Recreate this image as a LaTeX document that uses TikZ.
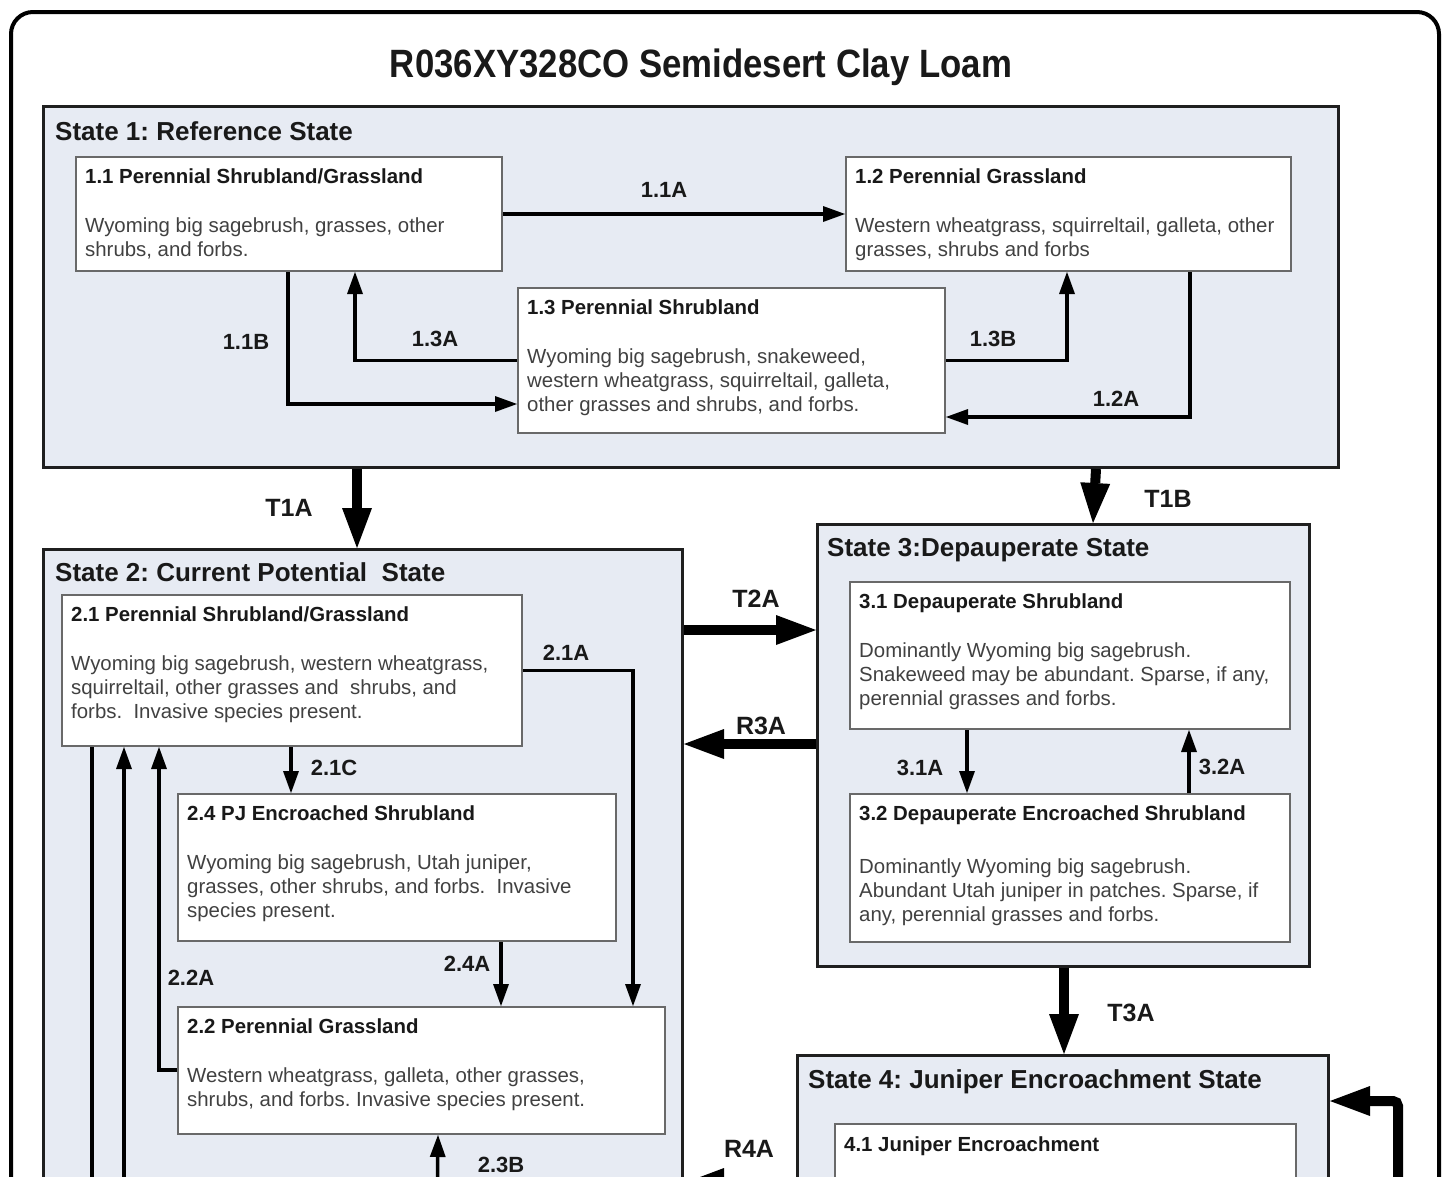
\documentclass[tikz,border=0pt]{standalone}
\usepackage{fontspec}
\setmainfont{Liberation Sans}
\usepackage{graphicx}
\usetikzlibrary{arrows.meta}
\definecolor{statefill}{RGB}{231,235,243}
\definecolor{subedge}{RGB}{105,105,105}
\definecolor{bodytext}{RGB}{65,65,65}
\definecolor{headtext}{RGB}{25,25,25}
\newcommand\mysub[8]{%
  \node[sub, minimum width=#4pt, minimum height=#5pt] (#1) at (#2,#3) {};
  \node[head] (#1h) at ([shift={(10pt,-27pt)}]#1.north west) {#6};
  \node[body] (#1b) at ([shift={(10pt,-#8pt)}]#1.north west) {\rule{0pt}{16pt}#7};
}
\frenchspacing
\begin{document}
\frenchspacing
\begin{tikzpicture}[x=1pt,y=-1pt,
  state/.style={draw=black!88, line width=3pt, fill=statefill, inner sep=0pt, anchor=north west},
  sub/.style={draw=subedge, line width=2pt, fill=white, inner sep=0pt, anchor=north west},
  head/.style={font=\fontsize{20.4}{24}\selectfont\bfseries\frenchspacing, text=headtext, inner sep=0pt, anchor=base west},
  body/.style={font=\fontsize{20.4}{24}\selectfont\frenchspacing, text=bodytext, inner sep=0pt, align=left, anchor=north west},
  stitle/.style={font=\fontsize{26}{30}\selectfont\bfseries\frenchspacing, text=headtext, inner sep=0pt, anchor=base west},
  lab/.style={font=\fontsize{22}{26}\selectfont\bfseries, text=headtext, inner sep=0pt, anchor=base},
  tlab/.style={font=\fontsize{25}{30}\selectfont\bfseries, text=headtext, inner sep=0pt, anchor=base},
  arr/.style={line width=3.5pt, -{Triangle[length=22pt,width=16pt,line width=0pt]}},
  plainline/.style={line width=3.5pt},
  bigarr/.style={line width=10pt, -{Triangle[length=40pt,width=30pt,line width=0pt]}}
]
\useasboundingbox (0,0) rectangle (1446,1176);
\clip (0,0) rectangle (1446,1176);
\fill[white] (0,0) rectangle (1446,1176);
\draw[line width=4pt, rounded corners=22pt] (11,12) rectangle (1439,1320);

\node[font=\fontsize{39.5}{44}\selectfont\bfseries, text=headtext, inner sep=0pt, anchor=base] (title) at (701,77)
  {\scalebox{0.88}[1]{R036XY328CO Semidesert Clay Loam}};

% states
\node[state, minimum width=1295pt, minimum height=361pt] (s1) at (42,105) {};
\node[state, minimum width=639pt, minimum height=720pt] (s2) at (42,548) {};
\node[state, minimum width=492pt, minimum height=442pt] (s3) at (816,523) {};
\node[state, minimum width=531pt, minimum height=300pt] (s4) at (796,1054) {};
\node[stitle] (s1t) at ([shift={(13pt,-35pt)}]s1.north west) {State 1: Reference State};
\node[stitle] (s2t) at ([shift={(13pt,-33pt)}]s2.north west) {State 2: Current Potential\ \ State};
\node[stitle] (s3t) at ([shift={(11pt,-33pt)}]s3.north west) {State 3:Depauperate State};
\node[stitle] (s4t) at ([shift={(12pt,-34pt)}]s4.north west) {State 4: Juniper Encroachment State};

% community boxes
\mysub{b11}{75}{156}{426}{114}{1.1 Perennial Shrubland/Grassland}{Wyoming big sagebrush, grasses, other\\shrubs, and forbs.}{60}
\mysub{b12}{845}{156}{445}{114}{1.2 Perennial Grassland}{Western wheatgrass, squirreltail, galleta, other\\grasses, shrubs and forbs}{60}
\mysub{b13}{517}{287}{427}{145}{1.3 Perennial Shrubland}{Wyoming big sagebrush, snakeweed,\\western wheatgrass, squirreltail, galleta,\\other grasses and shrubs, and forbs.}{60}
\mysub{b21}{61}{594}{460}{151}{2.1 Perennial Shrubland/Grassland}{Wyoming big sagebrush, western wheatgrass,\\squirreltail, other grasses and\ \ shrubs, and\\forbs.\ \ Invasive species present.}{60}
\mysub{b24}{177}{793}{438}{147}{2.4 PJ Encroached Shrubland}{Wyoming big sagebrush, Utah juniper,\\grasses, other shrubs, and forbs.\ \ Invasive\\species present.}{60}
\mysub{b22}{177}{1006}{487}{127}{2.2 Perennial Grassland}{Western wheatgrass, galleta, other grasses,\\shrubs, and forbs. Invasive species present.}{60}
\mysub{b31}{849}{581}{440}{147}{3.1 Depauperate Shrubland}{Dominantly Wyoming big sagebrush.\\Snakeweed may be abundant. Sparse, if any,\\perennial grasses and forbs.}{60}
\mysub{b32}{849}{793}{440}{148}{3.2 Depauperate Encroached Shrubland}{Dominantly Wyoming big sagebrush.\\Abundant Utah juniper in patches. Sparse, if\\any, perennial grasses and forbs.}{64}
\node[sub, minimum width=461pt, minimum height=300pt] (b41) at (834,1123) {};
\node[head] (b41h) at ([shift={(10pt,-28pt)}]b41.north west) {4.1 Juniper Encroachment};

% free ends below the visible area
\coordinate (c92) at (92,1220);
\coordinate (c124) at (124,1220);
\coordinate (c437) at (437,1220);
\coordinate (cR) at (1398,1220);

% state 1 pathways
\draw[arr] (b11.east) -- (b12.west);
\draw[arr] ([xshift=213pt]b11.south west) |- ([yshift=30pt]b13.south west);
\draw[arr] (b13.west) -| ([xshift=280pt]b11.south west);
\draw[arr] (b13.east) -| ([xshift=222pt]b12.south west);
\draw[arr] ([xshift=345pt]b12.south west) |- ([yshift=17pt]b13.south east);

% state 2 pathways
\draw[arr] (b21.east) -| ([xshift=-33pt]b22.north east);
\draw[arr] ([xshift=230pt]b21.south west) -- ([xshift=114pt]b24.north west);
\draw[arr] ([xshift=324pt]b24.south west) -- ([xshift=324pt]b22.north west);
\draw[arr] ([yshift=-64pt]b22.north west) -| ([xshift=98pt]b21.south west);
\draw[arr] (c124) -- ([xshift=63pt]b21.south west);
\draw[plainline] ([xshift=31pt]b21.south west) -- (c92);
\draw[arr] (c437) -- ([xshift=261pt]b22.south west);

% state 3 pathways
\draw[arr] ([xshift=118pt]b31.south west) -- ([xshift=118pt]b32.north west);
\draw[arr] ([xshift=340pt]b32.north west) -- ([xshift=340pt]b31.south west);

% transitions between states
\draw[bigarr] ([xshift=315pt]s1.south west) -- ([xshift=315pt]s2.north west);
\draw[bigarr] ([xshift=-244pt]s1.south east) -- ([xshift=277pt]s3.north west);
\draw[bigarr] ([yshift=-82pt]s2.north east) -- ([yshift=-107pt]s3.north west);
\draw[bigarr] ([yshift=-221pt]s3.north west) -- ([yshift=-196pt]s2.north east);
\draw[bigarr] ([xshift=248pt]s3.south west) -- ([xshift=268pt]s4.north west);
\draw[bigarr, rounded corners=5pt] (cR) |- ([yshift=-47pt]s4.north east);
\draw[bigarr] ([yshift=-129pt]s4.north west) -- ([yshift=-635pt]s2.north east);

% labels
\node[lab] (l11A) at (664,197) {1.1A};
\node[lab] (l11B) at (246,349) {1.1B};
\node[lab] (l13A) at (435,346) {1.3A};
\node[lab] (l13B) at (993,346) {1.3B};
\node[lab] (l12A) at (1116,406) {1.2A};
\node[lab] (l21A) at (566,660) {2.1A};
\node[lab] (l21C) at (334,775) {2.1C};
\node[lab] (l24A) at (467,971) {2.4A};
\node[lab] (l22A) at (191,985) {2.2A};
\node[lab] (l23B) at (501,1172) {2.3B};
\node[lab] (l31A) at (920,775) {3.1A};
\node[lab] (l32A) at (1222,774) {3.2A};
\node[tlab] (lT1A) at (289,516) {T1A};
\node[tlab] (lT1B) at (1168,507) {T1B};
\node[tlab] (lT2A) at (756,607) {T2A};
\node[tlab] (lR3A) at (761,734) {R3A};
\node[tlab] (lT3A) at (1131,1021) {T3A};
\node[tlab] (lR4A) at (749,1157) {R4A};
\end{tikzpicture}
\end{document}
